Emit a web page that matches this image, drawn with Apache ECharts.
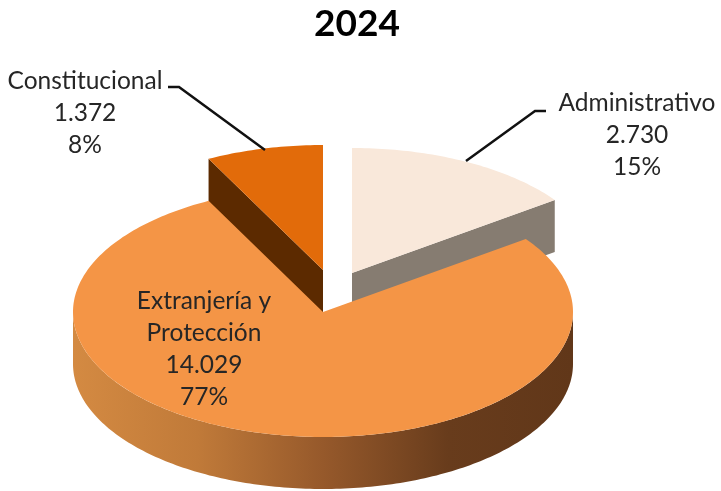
<!DOCTYPE html>
<html>
<head>
<meta charset="utf-8">
<style>
html, body { margin: 0; padding: 0; background: #fff; }
#chart { width: 721px; height: 491px; }
</style>
<script src="https://cdn.jsdelivr.net/npm/echarts@6/dist/echarts.min.js"></script>
</head>
<body>
<div id="chart"></div>
<script>
// clockwise from 12 o'clock, same order as the source pie
var categories = ['Administrativo', 'Extranjería y\nProtección', 'Constitucional'];
var values = [2730, 14029, 1372];

var topColors = ['#f9e8da', '#f49546', '#e26b0a'];
var wallColors = ['#867c71', '#f49546', '#5c2a00'];
// how far each slice was pulled out of the pie, in px
var pullX = [29, 0, 0];
var pullY = [-39, 0, -42];

var cx = 323, cy = 312, rx = 250, ry = 125, depth = 52;

// where the data labels sit (block centre), and the leader lines going to the rim
var labelX = [637, 204, 85];
var labelY = [135, 349, 113];
var leaders = [
    [[546, 111], [535, 111], [466, 161]],
    null,
    [[168, 87], [179, 87], [265, 150]]
];

var total = values.reduce(function (a, b) { return a + b; }, 0);

function fmt(v) {
    return String(v).replace(/\B(?=(\d{3})+$)/g, '.');
}

function rim(deg, ox, oy, dy) {
    var a = deg * Math.PI / 180;
    return [cx + ox + rx * Math.sin(a), cy + oy + dy - ry * Math.cos(a)];
}

function arc(from, to, ox, oy, dy) {
    var pts = [];
    var n = Math.max(2, Math.ceil(Math.abs(to - from)));
    for (var i = 0; i <= n; i++) {
        pts.push(rim(from + (to - from) * i / n, ox, oy, dy));
    }
    return pts;
}

function renderSlice(params, api) {
    var i = params.dataIndex;
    var start = 0;
    for (var k = 0; k < i; k++) {
        start += values[k] / total * 360;
    }
    var end = start + api.value(0) / total * 360;
    var ox = pullX[i], oy = pullY[i];
    var z = (ox || oy) ? 0 : 10;
    var apex = [cx + ox, cy + oy];
    var children = [];

    if (ox || oy) {
        // side face of a pulled slice, the cut that looks at the viewer
        var edge = ox ? end : start;
        var p = rim(edge, ox, oy, 0);
        children.push({
            type: 'polygon',
            z2: z,
            shape: { points: [apex, p, [p[0], p[1] + depth], [apex[0], apex[1] + depth]] },
            style: { fill: wallColors[i] }
        });
    } else {
        // outer wall of the big slice, only the front half shows
        var from = Math.max(start, 90), to = Math.min(end, 270);
        var lower = arc(from, to, ox, oy, depth);
        var upper = arc(to, from, ox, oy, 0);
        children.push({
            type: 'polygon',
            z2: z,
            shape: { points: lower.concat(upper) },
            style: {
                fill: {
                    type: 'linear', x: 0, y: 0, x2: 1, y2: 0,
                    colorStops: [
                        { offset: 0, color: '#d48a42' },
                        { offset: 0.25, color: '#c07a39' },
                        { offset: 0.5, color: '#96592b' },
                        { offset: 0.75, color: '#683c1c' },
                        { offset: 1, color: '#613719' }
                    ]
                }
            }
        });
    }

    children.push({
        type: 'polygon',
        z2: z + 1,
        shape: { points: [apex].concat(arc(start, end, ox, oy, 0)) },
        style: { fill: topColors[i] }
    });

    if (leaders[i]) {
        children.push({
            type: 'polyline',
            z2: 20,
            shape: { points: leaders[i] },
            style: { fill: null, stroke: '#111', lineWidth: 2.5 }
        });
    }

    children.push({
        type: 'text',
        z2: 21,
        style: {
            x: labelX[i],
            y: labelY[i],
            text: categories[i] + '\n' + fmt(api.value(0)) + '\n' + Math.round(api.value(0) / total * 100) + '%',
            align: 'center',
            verticalAlign: 'middle',
            font: '24.5px Lato',
            lineHeight: 32,
            fill: '#262626'
        }
    });

    return { type: 'group', children: children };
}

var chart = echarts.init(document.getElementById('chart'), null, { renderer: 'canvas' });

var option = {
    animation: false,
    title: {
        text: '2024',
        left: 352,
        top: 1,
        textAlign: 'center',
        textStyle: { fontFamily: 'Lato', fontSize: 37, fontWeight: 'bold', color: '#000' }
    },
    series: [{
        type: 'custom',
        coordinateSystem: 'none',
        renderItem: renderSlice,
        data: values.map(function (v) { return [v]; })
    }]
};

chart.setOption(option);

window.onresize = chart.resize;
</script>
</body>
</html>
